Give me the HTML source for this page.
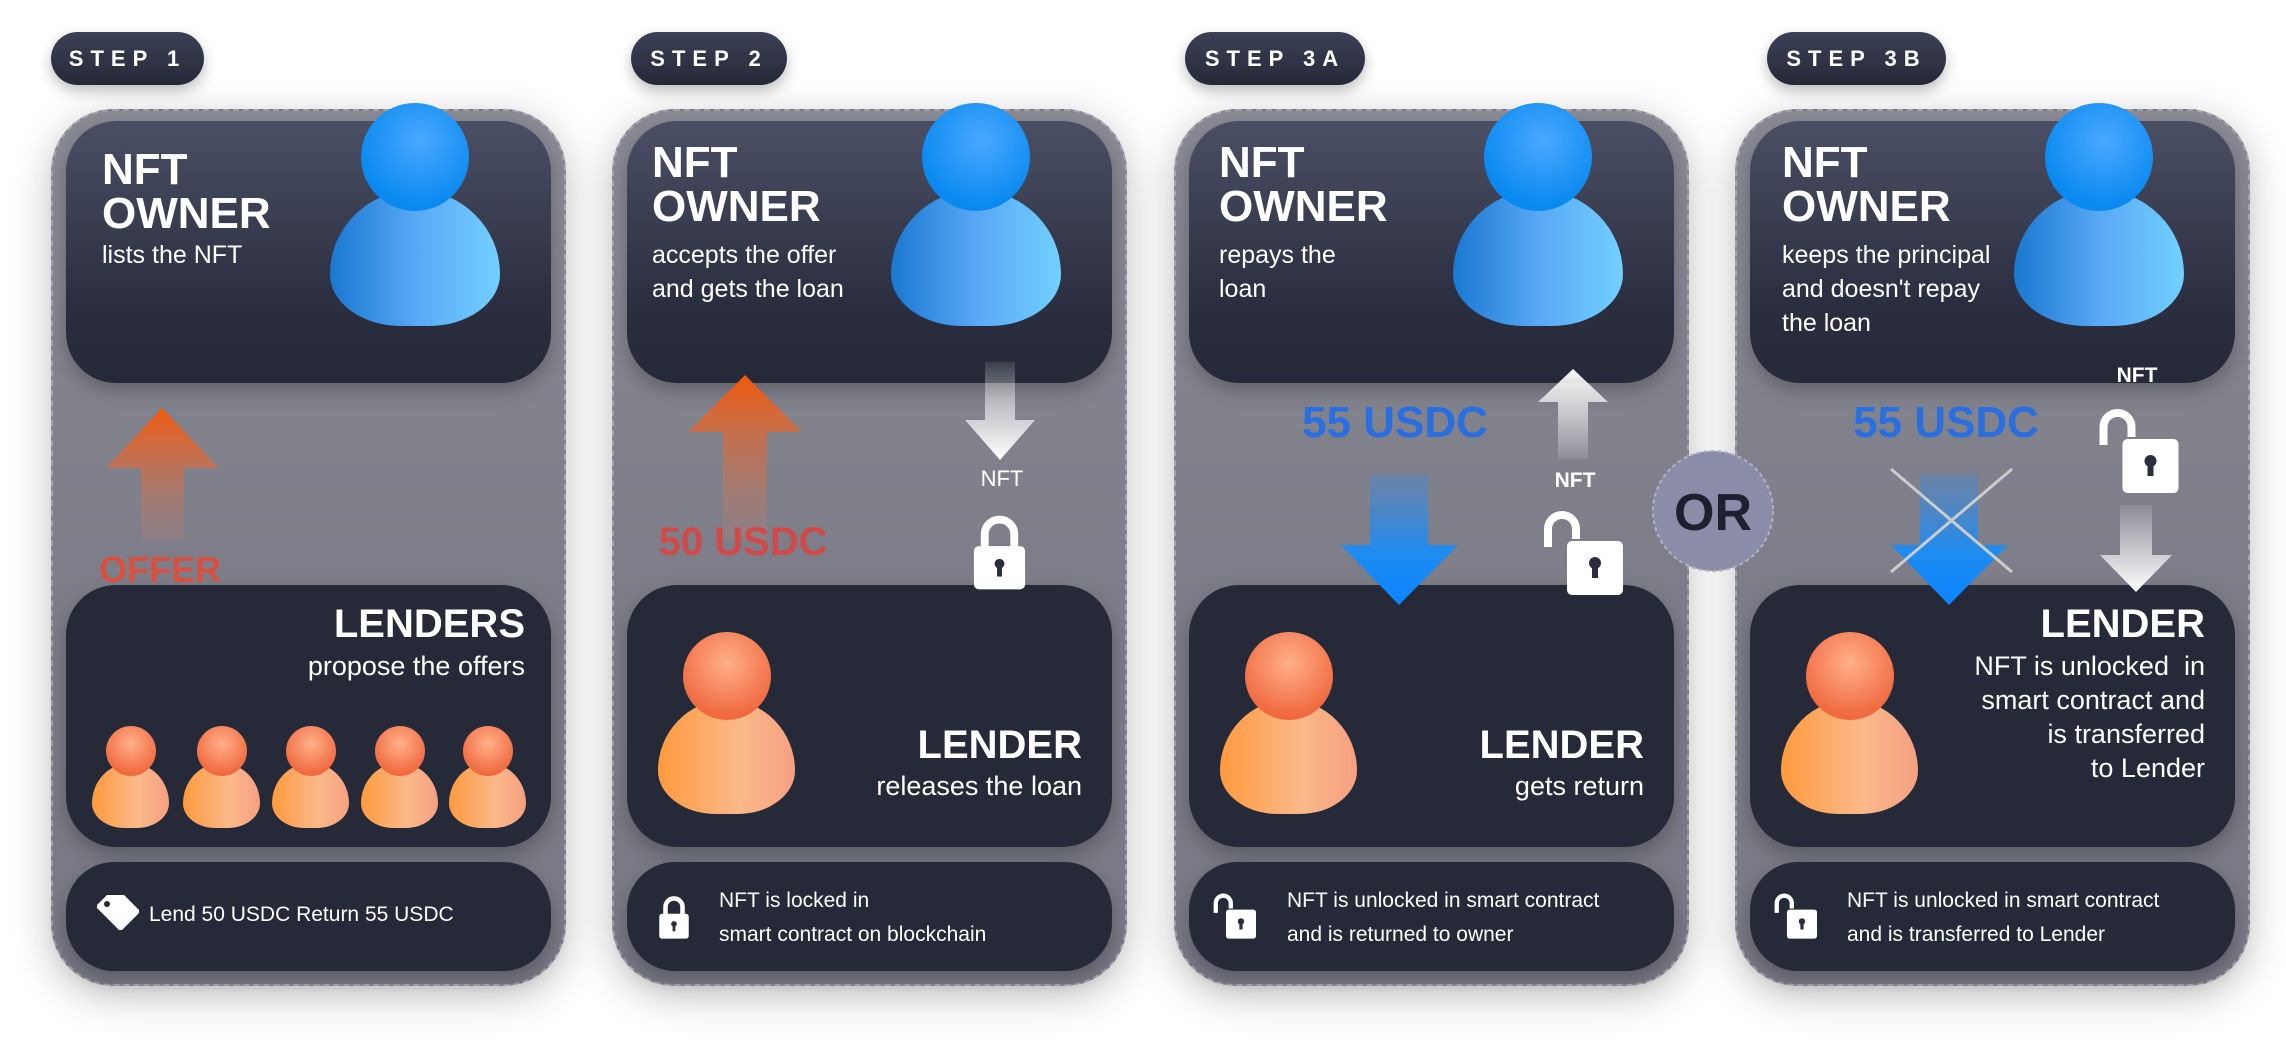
<!DOCTYPE html>
<html><head><meta charset="utf-8"><style>
*{margin:0;padding:0;box-sizing:border-box}
body{width:2286px;height:1040px;background:#fff;position:relative;overflow:hidden;font-family:"Liberation Sans",sans-serif;color:#fff}
.a{position:absolute}
.panel{position:absolute;top:109px;width:515px;height:877px;border-radius:62px;background:linear-gradient(#8a8a94,#7c7c88 60%,#797985);box-shadow:0 10px 40px rgba(0,0,0,.25);border:2px dashed rgba(200,200,210,.5)}
.card{position:absolute;width:485px;border-radius:50px;background:#252938;box-shadow:0 8px 18px rgba(0,0,0,.25)}
.top{top:121px;height:262px;background:linear-gradient(#4b4f64,#2a2e3f 70%,#252938)}
.bot{top:585px;height:262px}
.foot{top:862px;height:109px;border-radius:48px}
.badge{position:absolute;top:32px;height:53px;border-radius:27px;background:linear-gradient(#3c4055,#252938);color:#fff;font-weight:bold;font-size:22px;letter-spacing:7px;line-height:53px;text-align:center;box-shadow:0 6px 14px rgba(0,0,0,.25)}
.title{position:absolute;font-weight:bold;font-size:44px;line-height:44px}
.sub{position:absolute;font-size:25px;line-height:34px}
.rt{position:absolute;text-align:right;width:440px}
.rt .h{font-weight:bold;font-size:40px;line-height:44px}
.rt .s{font-size:27px;line-height:34px}
.ft{position:absolute;font-size:21px;line-height:34px}
.head{position:absolute;border-radius:50%;background:radial-gradient(circle at 55% 35%,#4aa8ff,#0a8af0 70%)}
.body{position:absolute;border-radius:50% 50% 42% 42%/62% 62% 38% 38%;background:linear-gradient(90deg,#1a78d0,#58a8f5 50%,#72d0ff)}
.ohead{position:absolute;border-radius:50%;background:radial-gradient(circle at 50% 35%,#ffb08a,#f0683e 75%)}
.obody{position:absolute;border-radius:50% 50% 42% 42%/62% 62% 38% 38%;background:linear-gradient(90deg,#ff9a3e,#fbb98a 60%,#f5a080)}
</style></head><body>

<div class="badge" style="left:51px;width:153px">STEP 1</div>
<div class="badge" style="left:631px;width:156px">STEP 2</div>
<div class="badge" style="left:1185px;width:180px">STEP 3A</div>
<div class="badge" style="left:1767px;width:179px">STEP 3B</div>

<div class="panel" style="left:51px"></div>
<div class="panel" style="left:612px"></div>
<div class="panel" style="left:1174px"></div>
<div class="panel" style="left:1735px"></div>

<div class="card top" style="left:66px"></div><div class="card bot" style="left:66px"></div><div class="card foot" style="left:66px"></div>
<div class="card top" style="left:627px"></div><div class="card bot" style="left:627px"></div><div class="card foot" style="left:627px"></div>
<div class="card top" style="left:1189px"></div><div class="card bot" style="left:1189px"></div><div class="card foot" style="left:1189px"></div>
<div class="card top" style="left:1750px"></div><div class="card bot" style="left:1750px"></div><div class="card foot" style="left:1750px"></div>

<div class="body" style="left:330px;top:190px;width:170px;height:136px"></div><div class="head" style="left:361px;top:103px;width:108px;height:108px"></div>
<div class="body" style="left:891px;top:190px;width:170px;height:136px"></div><div class="head" style="left:922px;top:103px;width:108px;height:108px"></div>
<div class="body" style="left:1453px;top:190px;width:170px;height:136px"></div><div class="head" style="left:1484px;top:103px;width:108px;height:108px"></div>
<div class="body" style="left:2014px;top:190px;width:170px;height:136px"></div><div class="head" style="left:2045px;top:103px;width:108px;height:108px"></div>

<div class="obody" style="left:658px;top:700px;width:137px;height:114px"></div><div class="ohead" style="left:683px;top:632px;width:88px;height:88px"></div>
<div class="obody" style="left:1220px;top:700px;width:137px;height:114px"></div><div class="ohead" style="left:1245px;top:632px;width:88px;height:88px"></div>
<div class="obody" style="left:1781px;top:700px;width:137px;height:114px"></div><div class="ohead" style="left:1806px;top:632px;width:88px;height:88px"></div>

<div class="obody" style="left:92px;top:763px;width:77px;height:65px"></div><div class="ohead" style="left:106px;top:726px;width:50px;height:50px"></div>
<div class="obody" style="left:183px;top:763px;width:77px;height:65px"></div><div class="ohead" style="left:197px;top:726px;width:50px;height:50px"></div>
<div class="obody" style="left:272px;top:763px;width:77px;height:65px"></div><div class="ohead" style="left:286px;top:726px;width:50px;height:50px"></div>
<div class="obody" style="left:361px;top:763px;width:77px;height:65px"></div><div class="ohead" style="left:375px;top:726px;width:50px;height:50px"></div>
<div class="obody" style="left:449px;top:763px;width:77px;height:65px"></div><div class="ohead" style="left:463px;top:726px;width:50px;height:50px"></div>

<div class="title" style="left:102px;top:148px">NFT<br>OWNER</div>
<div class="sub" style="left:102px;top:238px">lists the NFT</div>
<div class="title" style="left:652px;top:141px">NFT<br>OWNER</div>
<div class="sub" style="left:652px;top:238px">accepts the offer<br>and gets the loan</div>
<div class="title" style="left:1219px;top:141px">NFT<br>OWNER</div>
<div class="sub" style="left:1219px;top:238px">repays the<br>loan</div>
<div class="title" style="left:1782px;top:141px">NFT<br>OWNER</div>
<div class="sub" style="left:1782px;top:238px">keeps the principal<br>and doesn't repay<br>the loan</div>

<div class="rt" style="left:85px;top:602px"><div class="h">LENDERS</div><div class="s" style="margin-top:3px">propose the offers</div></div>
<div class="rt" style="left:642px;top:723px"><div class="h">LENDER</div><div class="s" style="margin-top:2px">releases the loan</div></div>
<div class="rt" style="left:1204px;top:723px"><div class="h">LENDER</div><div class="s" style="margin-top:2px">gets return</div></div>
<div class="rt" style="left:1765px;top:602px"><div class="h">LENDER</div><div class="s" style="margin-top:3px">NFT is unlocked &nbsp;in<br>smart contract and<br>is transferred<br>to Lender</div></div>

<div class="ft" style="left:149px;top:898px">Lend 50 USDC Return 55 USDC</div>
<div class="ft" style="left:719px;top:884px">NFT is locked in<br>smart contract on blockchain</div>
<div class="ft" style="left:1287px;top:884px">NFT is unlocked in smart contract<br>and is returned to owner</div>
<div class="ft" style="left:1847px;top:884px">NFT is unlocked in smart contract<br>and is transferred to Lender</div>

<svg class="a" style="left:0;top:0" width="2286" height="1040" viewBox="0 0 2286 1040">
<defs>
<linearGradient id="og" x1="0" y1="0" x2="0" y2="1"><stop offset="0" stop-color="#f25a0e"/><stop offset="1" stop-color="#c08070" stop-opacity=".2"/></linearGradient>
<linearGradient id="bg" x1="0" y1="0" x2="0" y2="1"><stop offset="0" stop-color="#3a8ae0" stop-opacity=".3"/><stop offset=".6" stop-color="#1e8cf0"/><stop offset="1" stop-color="#0a84ff"/></linearGradient>
<linearGradient id="wd" x1="0" y1="0" x2="0" y2="1"><stop offset="0" stop-color="#fff" stop-opacity=".1"/><stop offset="1" stop-color="#fff"/></linearGradient>
<linearGradient id="wu" x1="0" y1="0" x2="0" y2="1"><stop offset="0" stop-color="#fff"/><stop offset="1" stop-color="#fff" stop-opacity=".1"/></linearGradient>
<symbol id="lk" viewBox="0 0 60 80"><path d="M15 40V24a15 15 0 0 1 30 0V40" fill="none" stroke="#fff" stroke-width="8"/><rect x="4" y="36" width="52" height="44" rx="5" fill="#fff"/><circle cx="30" cy="54" r="5" fill="#2a2e3f"/><rect x="27.5" y="55" width="5" height="12" fill="#2a2e3f"/></symbol>
<symbol id="ul" viewBox="0 0 82 88"><path d="M7 40V22a14 14 0 0 1 28 0V32" fill="none" stroke="#fff" stroke-width="8"/><rect x="26" y="34" width="56" height="54" rx="5" fill="#fff"/><circle cx="54" cy="56" r="6" fill="#2a2e3f"/><rect x="51" y="57" width="6" height="14" fill="#2a2e3f"/></symbol>
</defs>
<polygon points="162,408 219,468 184,468 184,540 141,540 141,468 106,468" fill="url(#og)"/>
<polygon points="745,375 802,432 767,432 767,540 723,540 723,432 688,432" fill="url(#og)"/>
<polygon points="985,362 1015,362 1015,420 1035,420 1000,460 965,420 985,420" fill="url(#wd)"/>
<use href="#lk" x="970" y="510" width="59" height="80"/>
<polygon points="1370,474 1428,474 1428,545 1458,545 1399,605 1341,545 1370,545" fill="url(#bg)"/>
<polygon points="1573,369 1608,402 1588,402 1588,459 1558,459 1558,402 1538,402" fill="url(#wu)"/>
<use href="#ul" x="1541" y="507" width="82" height="88"/>
<circle cx="1713" cy="511" r="60" fill="#8b8da8" stroke="#b0b2c4" stroke-width="2" stroke-dasharray="4 3"/>
<text x="1713" y="530" text-anchor="middle" font-family="Liberation Sans" font-weight="bold" font-size="52" fill="#1e2030">OR</text>
<polygon points="1920,474 1978,474 1978,545 2008,545 1949,605 1891,545 1920,545" fill="url(#bg)"/>
<line x1="1891" y1="469" x2="2012" y2="572" stroke="#ccc" stroke-width="3"/>
<line x1="2012" y1="469" x2="1891" y2="572" stroke="#ccc" stroke-width="3"/>
<use href="#ul" x="2095" y="405" width="85" height="88"/>
<polygon points="2120,505 2152,505 2152,555 2172,555 2136,592 2100,555 2120,555" fill="url(#wd)"/>
<path d="M97 905l10-10 17 0 15 15 0 3-17 17-3 0-22-22z" fill="#fff"/>
<circle cx="107" cy="904" r="3" fill="#252938"/>
<use href="#lk" x="657" y="893" width="34" height="46"/>
<use href="#ul" x="1212" y="891" width="44" height="48"/>
<use href="#ul" x="1773" y="891" width="44" height="48"/>
</svg>

<div class="a" style="left:60px;top:549px;width:200px;text-align:center;font-weight:bold;font-size:36px;color:#d9503e">OFFER</div>
<div class="a" style="left:643px;top:520px;width:200px;text-align:center;font-weight:bold;font-size:40px;color:#d04a4a">50 USDC</div>
<div class="a" style="left:975px;top:466px;width:54px;text-align:center;font-size:22px">NFT</div>
<div class="a" style="left:1290px;top:398px;width:210px;text-align:center;font-weight:bold;font-size:44px;color:#2a6fe0">55 USDC</div>
<div class="a" style="left:1841px;top:398px;width:210px;text-align:center;font-weight:bold;font-size:44px;color:#2a6fe0">55 USDC</div>
<div class="a" style="left:1545px;top:469px;width:60px;text-align:center;font-weight:bold;font-size:21px">NFT</div>
<div class="a" style="left:2107px;top:364px;width:60px;text-align:center;font-weight:bold;font-size:21px">NFT</div>
</body></html>
